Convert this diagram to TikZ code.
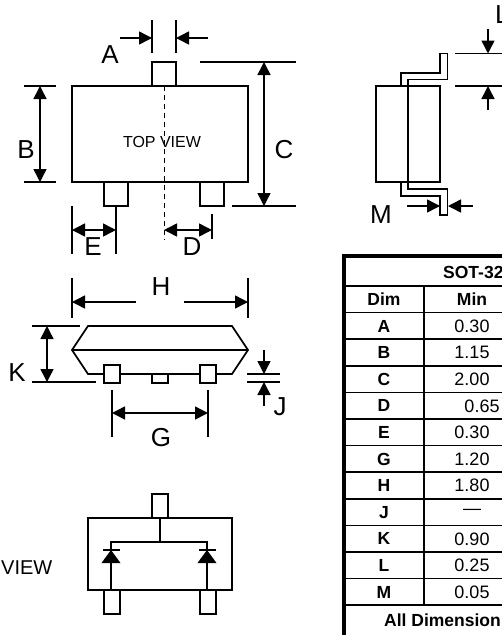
\documentclass[tikz,border=0pt]{standalone}
\usepackage{fontspec}
\setmainfont{Liberation Sans}
\usetikzlibrary{arrows.meta}
\tikzset{
  part/.style={line width=1.7pt},
  dimline/.style={line width=1.5pt},
  dimarrow/.style={line width=1.5pt, -{Triangle[length=13pt,width=13pt]}},
  dimboth/.style={line width=1.5pt, {Triangle[length=13pt,width=13pt]}-{Triangle[length=13pt,width=13pt]}},
  letter/.style={font=\fontsize{26}{26}\selectfont},
  cell/.style={font=\fontsize{18}{18}\selectfont},
  headcell/.style={font=\fontsize{17.5}{18}\selectfont\bfseries},
}
\begin{document}
\begin{tikzpicture}[x=1pt, y=-1pt]
  \useasboundingbox (0, 0) rectangle (502, 635);

  %% top view
  \draw[part] (72, 86) rectangle (248, 182);
  \draw[part] (152, 62) rectangle (176, 86);
  \draw[part] (104, 182) rectangle (128, 206);
  \draw[part] (200, 182) rectangle (224, 206);
  \draw[line width=1pt, dash pattern=on 5pt off 4pt] (164, 86) -- (164, 240);
  \node[font=\fontsize{16}{16}\selectfont] (topview) at (162, 142) {TOP VIEW};

  \draw[dimline] (152, 20) -- (152, 53);
  \draw[dimline] (176, 20) -- (176, 53);
  \draw[dimarrow] (120, 38) -- (152, 38);
  \draw[dimarrow] (208, 38) -- (176, 38);
  \node[letter] (dimA) at (110, 55) {A};

  \draw[dimline] (24, 86) -- (56, 86);
  \draw[dimline] (24, 182) -- (56, 182);
  \draw[dimboth] (40, 86) -- (40, 182);
  \node[letter] (dimB) at (26, 150) {B};

  \draw[dimline] (200, 62) -- (296, 62);
  \draw[dimline] (232, 206) -- (296, 206);
  \draw[dimboth] (264, 62) -- (264, 206);
  \node[letter] (dimC) at (284, 150) {C};

  \draw[dimline] (72, 206) -- (72, 254);
  \draw[dimline] (116, 206) -- (116, 254);
  \draw[dimboth] (72, 230) -- (116, 230);
  \node[letter] (dimE) at (93, 247) {E};

  \draw[dimline] (212, 214) -- (212, 239);
  \draw[dimboth] (164, 230) -- (212, 230);
  \node[letter] (dimD) at (192, 247) {D};

  %% side view
  \draw[part] (376, 86) rectangle (440, 182);
  \draw[part] (401, 86) -- (401, 73) -- (440, 73) -- (440, 53.5) -- (447.5, 53.5)
    -- (447.5, 79.5) -- (408, 79.5) -- (408, 189) -- (447.5, 189) -- (447.5, 215)
    -- (440, 215) -- (440, 196) -- (401, 196) -- (401, 182);

  \draw[dimline] (455, 53.5) -- (502, 53.5);
  \draw[dimline] (455, 86) -- (502, 86);
  \draw[dimarrow] (488, 29) -- (488, 53.5);
  \draw[dimarrow] (488, 110) -- (488, 86);
  \node[letter, anchor=west, inner sep=0pt] (dimL) at (495, 15) {L};

  \draw[dimarrow] (407, 206) -- (440, 206);
  \draw[dimarrow] (473, 206) -- (448, 206);
  \node[letter] (dimM) at (381, 215) {M};

  %% front view
  \draw[part] (88, 326) -- (232, 326) -- (248, 350) -- (232, 374) -- (88, 374)
    -- (72, 350) -- cycle;
  \draw[part] (72, 350) -- (248, 350);
  \draw[part, fill=white] (104, 365) rectangle (120, 383);
  \draw[part, fill=white] (200, 365) rectangle (216, 383);
  \draw[part] (152, 374) rectangle (168, 383);

  \draw[dimline] (72, 278) -- (72, 318);
  \draw[dimline] (248, 278) -- (248, 318);
  \draw[dimarrow] (136, 302) -- (72, 302);
  \draw[dimarrow] (184, 302) -- (248, 302);
  \node[letter] (dimH) at (161, 287) {H};

  \draw[dimline] (32, 326) -- (80, 326);
  \draw[dimline] (32, 382) -- (96, 382);
  \draw[dimboth] (47, 326) -- (47, 382);
  \node[letter] (dimK) at (17, 373) {K};

  \draw[dimline] (247, 374) -- (280, 374);
  \draw[dimline] (247, 382) -- (280, 382);
  \draw[dimarrow] (264, 350) -- (264, 374);
  \draw[dimarrow] (264, 406) -- (264, 382);
  \node[letter] (dimJ) at (280, 407) {J};

  \draw[dimline] (112, 390) -- (112, 437);
  \draw[dimline] (208, 390) -- (208, 437);
  \draw[dimboth] (112, 413) -- (208, 413);
  \node[letter] (dimG) at (161, 438) {G};

  %% schematic
  \draw[part] (88, 518) rectangle (232, 590);
  \draw[part] (152, 494) rectangle (168, 518);
  \draw[part] (104, 590) rectangle (120, 614);
  \draw[part] (200, 590) rectangle (216, 614);
  \draw[part] (160, 518) -- (160, 542);
  \draw[part] (111, 590) -- (111, 542) -- (207, 542) -- (207, 590);
  \foreach \xd in {111, 207} {
    \draw[part] (\xd-8.5, 550) -- (\xd+8.5, 550);
    \fill (\xd, 550) -- (\xd+9.5, 563) -- (\xd-9.5, 563) -- cycle;
  }
  \node[font=\fontsize{20}{20}\selectfont, anchor=east, inner sep=0pt] (viewtext) at (52.5, 568) {VIEW};

  %% table
  \draw[line width=4pt] (344, 635) -- (344, 256) -- (502, 256);
  \foreach \n in {0, ..., 12}
    \draw[line width=1.5pt] (345, 286+26.6*\n) -- (502, 286+26.6*\n);
  \draw[line width=1.5pt] (424, 286) -- (424, 605.2);
  \node[headcell, anchor=west, inner sep=0pt] (tabletitle) at (443, 272) {SOT-32};
  \node[headcell] (headdim) at (384, 299.5) {Dim};
  \node[headcell] (headmin) at (472, 299.5) {Min};
  \foreach \dimname/\minval [count=\n from 0] in {A/0.30, B/1.15, C/2.00, D/\hphantom{00}0.65, E/0.30, G/1.20, H/1.80, J/---, K/0.90, L/0.25, M/0.05} {
    \node[headcell] (dim\n) at (384, 326+26.6*\n) {\dimname};
    \node[cell] (min\n) at (472, 326+26.6*\n) {\minval};
  }
  \node[headcell, anchor=west, inner sep=0pt] (tablefoot) at (384, 620) {All Dimension};
\end{tikzpicture}
\end{document}
